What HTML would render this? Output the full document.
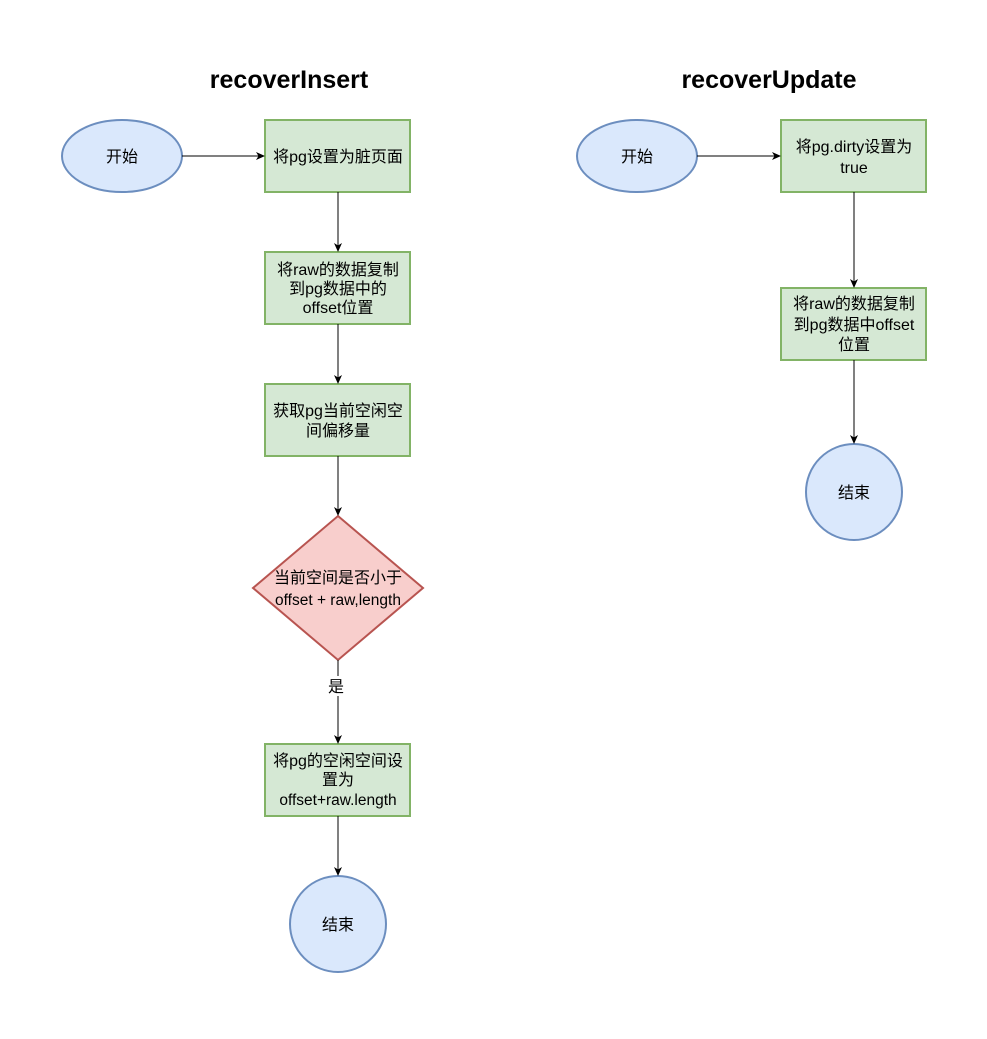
<!DOCTYPE html>
<html><head><meta charset="utf-8"><style>
html,body{margin:0;padding:0;background:#fff;}
text{font-family:"Liberation Sans","Noto Sans CJK SC",sans-serif;font-size:16px;fill:#000;}
.t{font-size:25px;font-weight:bold;}
.s{font-size:15.5px;}
</style></head><body>
<svg width="987" height="1034" viewBox="0 0 987 1034" xmlns="http://www.w3.org/2000/svg">
<defs><marker id="a" markerWidth="10" markerHeight="10" refX="8" refY="5" orient="auto" markerUnits="userSpaceOnUse"><path d="M0,1 L9,5 L0,9 L2.5,5 Z" fill="#000"/></marker></defs>
<g text-anchor="middle">
<text class="t" x="289" y="88">recoverInsert</text>
<text class="t" x="769" y="88">recoverUpdate</text>
</g>
<g stroke-width="2">
<ellipse cx="122" cy="156" rx="60" ry="36" fill="#dae8fc" stroke="#6c8ebf"/>
<rect x="265" y="120" width="145" height="72" fill="#d5e8d4" stroke="#82b366"/>
<rect x="265" y="252" width="145" height="72" fill="#d5e8d4" stroke="#82b366"/>
<rect x="265" y="384" width="145" height="72" fill="#d5e8d4" stroke="#82b366"/>
<polygon points="338,516 423,588 338,660 253,588" fill="#f8cecc" stroke="#b85450"/>
<rect x="265" y="744" width="145" height="72" fill="#d5e8d4" stroke="#82b366"/>
<circle cx="338" cy="924" r="48" fill="#dae8fc" stroke="#6c8ebf"/>
<ellipse cx="637" cy="156" rx="60" ry="36" fill="#dae8fc" stroke="#6c8ebf"/>
<rect x="781" y="120" width="145" height="72" fill="#d5e8d4" stroke="#82b366"/>
<rect x="781" y="288" width="145" height="72" fill="#d5e8d4" stroke="#82b366"/>
<circle cx="854" cy="492" r="48" fill="#dae8fc" stroke="#6c8ebf"/>
</g>
<g stroke="#000" stroke-width="1" marker-end="url(#a)">
<line x1="182" y1="156" x2="264" y2="156"/>
<line x1="338" y1="192" x2="338" y2="251"/>
<line x1="338" y1="324" x2="338" y2="383"/>
<line x1="338" y1="456" x2="338" y2="515"/>
<line x1="338" y1="696" x2="338" y2="743"/>
<line x1="338" y1="816" x2="338" y2="875"/>
<line x1="697" y1="156" x2="780" y2="156"/>
<line x1="854" y1="192" x2="854" y2="287"/>
<line x1="854" y1="360" x2="854" y2="443"/>
</g>
<line x1="338" y1="660" x2="338" y2="676" stroke="#000"/>
<g text-anchor="middle">
<text x="122" y="162">开始</text>
<text x="338" y="162">将pg设置为脏页面</text>
<text x="338" y="275">将raw的数据复制</text>
<text x="338" y="294">到pg数据中的</text>
<text x="338" y="313">offset位置</text>
<text x="338" y="416">获取pg当前空闲空</text>
<text x="338" y="436">间偏移量</text>
<text x="338" y="583">当前空间是否小于</text>
<text class="s" x="338" y="605">offset + raw,length</text>
<text x="336" y="692">是</text>
<text x="338" y="766">将pg的空闲空间设</text>
<text x="338" y="785">置为</text>
<text class="s" x="338" y="805">offset+raw.length</text>
<text x="338" y="930">结束</text>
<text x="637" y="162">开始</text>
<text x="854" y="152">将pg.dirty设置为</text>
<text x="854" y="173">true</text>
<text x="854" y="309">将raw的数据复制</text>
<text x="854" y="330">到pg数据中offset</text>
<text x="854" y="350">位置</text>
<text x="854" y="498">结束</text>
</g>
</svg>
</body></html>
